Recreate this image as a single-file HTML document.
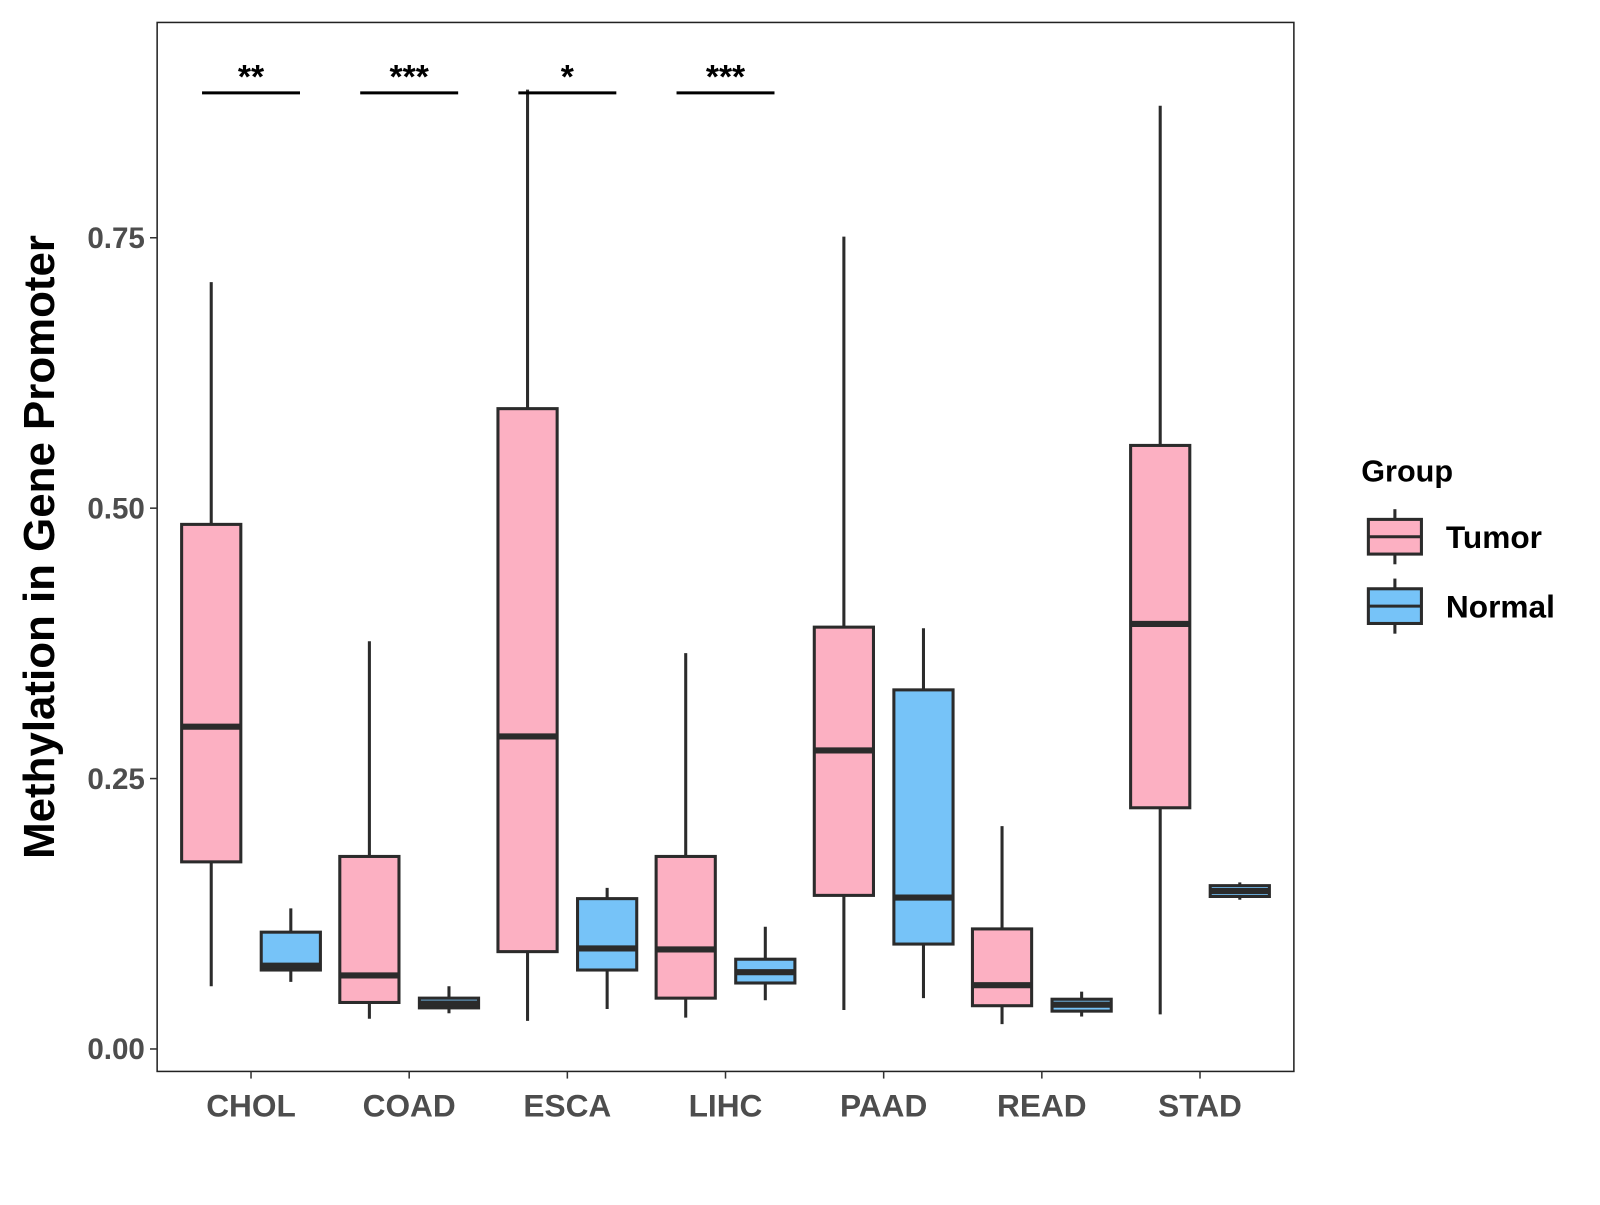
<!DOCTYPE html>
<html><head><meta charset="utf-8"><style>
body{margin:0;background:#fff;}
svg text{font-family:"Liberation Sans",Arial,sans-serif;font-weight:bold;}
</style></head><body>
<svg id="chart" width="1600" height="1200" viewBox="0 0 1568 1176" xmlns="http://www.w3.org/2000/svg"></svg>
<script>
const categories=["CHOL","COAD","ESCA","LIHC","PAAD","READ","STAD"];
const tumorLow=[0.058,0.028,0.026,0.029,0.036,0.023,0.032];
const tumorQ1=[0.173,0.043,0.090,0.047,0.142,0.040,0.223];
const tumorMed=[0.298,0.068,0.289,0.092,0.276,0.059,0.393];
const tumorQ3=[0.485,0.178,0.592,0.178,0.390,0.111,0.558];
const tumorHigh=[0.709,0.377,0.887,0.366,0.751,0.206,0.872];
const normalLow=[0.062,0.033,0.037,0.045,0.047,0.030,0.138];
const normalQ1=[0.073,0.038,0.073,0.061,0.097,0.035,0.141];
const normalMed=[0.077,0.042,0.093,0.071,0.140,0.041,0.146];
const normalQ3=[0.108,0.047,0.139,0.083,0.332,0.046,0.151];
const normalHigh=[0.130,0.058,0.149,0.113,0.389,0.053,0.154];
const sigLabels=["**","***","*","***","","",""];
const yTicks=[0,0.25,0.5,0.75];
const yTickLabels=["0.00","0.25","0.50","0.75"];

const NS="http://www.w3.org/2000/svg";
const svg=document.getElementById('chart');
function mk(tag,attrs,parent){const e=document.createElementNS(NS,tag);for(const k in attrs)e.setAttribute(k,attrs[k]);(parent||svg).appendChild(e);return e;}
const L=154,R=1268,T=22,B=1050;
const y=v=>1028-v*1060;
const x=i=>246+i*155;
const BW=58,OFF=39,STK="#2b2b2b";

const panel=mk('rect',{x:L,y:T,width:R-L,height:B-T,fill:'#fff',stroke:'#222','stroke-width':1.5});



yTicks.forEach((v,i)=>{
  const t=mk('line',{x1:L-7,x2:L,y1:y(v),y2:y(v),stroke:'#333','stroke-width':1.5});
  
  
  const tx=mk('text',{x:L-12,y:y(v)+10,'text-anchor':'end','font-size':29,fill:'#4d4d4d'});
  tx.textContent=yTickLabels[i];
  
  
});
categories.forEach((c,i)=>{
  const t=mk('line',{x1:x(i),x2:x(i),y1:B,y2:B+7,stroke:'#333','stroke-width':1.5});
  
  
  const tx=mk('text',{x:x(i),y:B+44,'text-anchor':'middle','font-size':31,fill:'#4d4d4d'});
  tx.textContent=c;
  
  
});

function box(cx,lo,q1,md,q3,hi,fill,name){
  const g=mk('g',{});
  
  
  mk('line',{x1:cx,x2:cx,y1:y(hi),y2:y(lo),stroke:STK,'stroke-width':3},g);
  mk('rect',{x:cx-BW/2,y:y(q3),width:BW,height:Math.max(1,y(q1)-y(q3)),fill:fill,stroke:STK,'stroke-width':3},g);
  mk('line',{x1:cx-BW/2,x2:cx+BW/2,y1:y(md),y2:y(md),stroke:STK,'stroke-width':6},g);
}
categories.forEach((c,i)=>{
  box(x(i)-OFF,tumorLow[i],tumorQ1[i],tumorMed[i],tumorQ3[i],tumorHigh[i],'#fcb0c2','box-tumor-'+c.toLowerCase());
  box(x(i)+OFF,normalLow[i],normalQ1[i],normalMed[i],normalQ3[i],normalHigh[i],'#76c3f8','box-normal-'+c.toLowerCase());
  if(sigLabels[i]){
    const l=mk('line',{x1:x(i)-48,x2:x(i)+48,y1:91,y2:91,stroke:'#000','stroke-width':3});
    
    
    const s=mk('text',{x:x(i),y:86,'text-anchor':'middle','font-size':33,fill:'#000'});
    s.textContent=sigLabels[i];
    
    
  }
});

const yt=mk('text',{x:0,y:0,transform:'translate(53,536) rotate(-90)','text-anchor':'middle','font-size':43,fill:'#000'});
yt.textContent='Methylation in Gene Promoter';



const lg=mk('g',{});


const lt=mk('text',{x:1334,y:472,'font-size':30,fill:'#000'},lg);
lt.textContent='Group';


[['Tumor','#fcb0c2',526],['Normal','#76c3f8',594]].forEach(([n,f,cy])=>{
  const e=mk('g',{},lg);
  
  
  mk('line',{x1:1367,x2:1367,y1:cy-27,y2:cy+27,stroke:STK,'stroke-width':3},e);
  mk('rect',{x:1341,y:cy-17,width:52,height:34,fill:f,stroke:STK,'stroke-width':3},e);
  mk('line',{x1:1341,x2:1393,y1:cy,y2:cy,stroke:STK,'stroke-width':3},e);
  const t=mk('text',{x:1417,y:cy+11,'font-size':31,fill:'#000'},e);
  t.textContent=n;
});
</script>
</body></html>
